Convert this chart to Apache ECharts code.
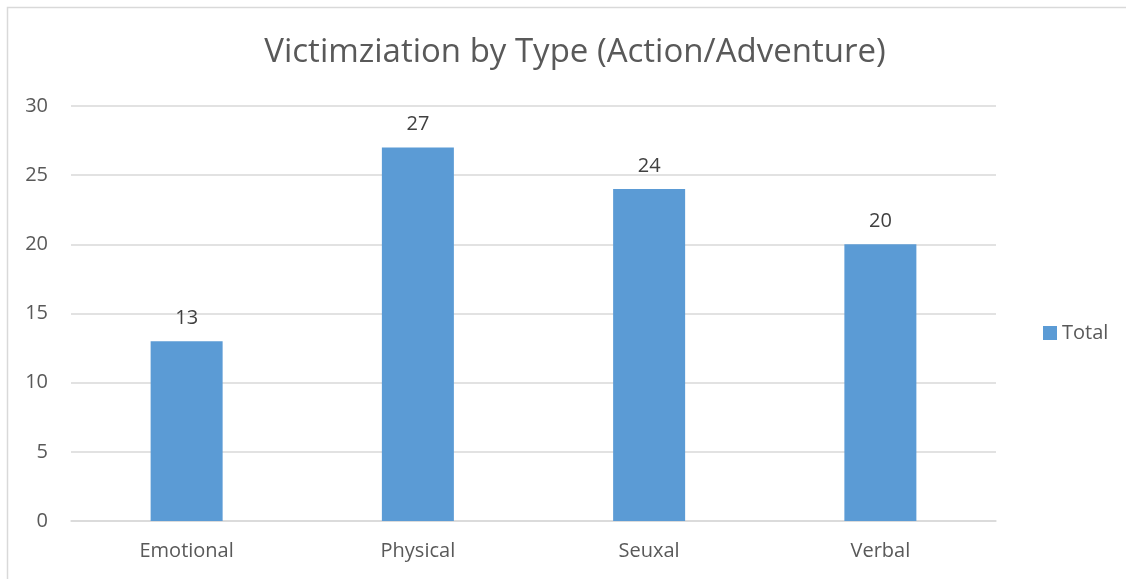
<!DOCTYPE html>
<html><head><meta charset="utf-8">
<script src="https://cdn.jsdelivr.net/npm/echarts@6/dist/echarts.min.js"></script>
<style>html,body{margin:0;padding:0;background:#fff;}#c{width:1126px;height:579px;}</style>
</head><body><div id="c"></div>
<script>
const titleText = "Victimziation by Type (Action/Adventure)";
const categories = ["Emotional", "Physical", "Seuxal", "Verbal"];
const seriesName = "Total";
const values = [13, 27, 24, 20];
const yTicks = { min: 0, max: 30, interval: 5 };

const FONT = "'Open Sans', 'Noto Sans', sans-serif";
const chart = echarts.init(document.getElementById('c'));
chart.setOption({
  backgroundColor: '#fff',
  animation: false,
  graphic: [{ type: 'rect', shape: { x: 7.5, y: 7.5, width: 1130, height: 590 }, style: { fill: 'none', stroke: '#d9d9d9', lineWidth: 1.5 }, silent: true }],
  title: { text: titleText, left: 570, textAlign: 'center', top: 31, textStyle: { fontFamily: FONT, fontSize: 33, fontWeight: 'normal', color: '#595959' } },
  legend: { data: [seriesName], left: 1038, top: 318, orient: 'vertical', itemWidth: 14, itemHeight: 14, itemGap: 5, icon: 'rect', textStyle: { fontFamily: FONT, fontSize: 20, color: '#595959' } },
  grid: { left: 71, right: 130, top: 106, bottom: 58, containLabel: false },
  xAxis: { type: 'category', data: categories, axisLine: { lineStyle: { color: '#d9d9d9', width: 1.5 } }, axisTick: { show: false }, axisLabel: { fontFamily: FONT, fontSize: 20, color: '#595959', margin: 20 } },
  yAxis: { type: 'value', min: yTicks.min, max: yTicks.max, interval: yTicks.interval, axisLine: { show: false }, axisTick: { show: false }, splitLine: { lineStyle: { color: '#d9d9d9', width: 1.5 } }, axisLabel: { fontFamily: FONT, fontSize: 20, color: '#595959', margin: 23 } },
  series: [{ name: seriesName, type: 'bar', data: values, barWidth: 72, itemStyle: { color: '#5b9bd5' }, label: { show: true, position: 'top', distance: 13, fontFamily: FONT, fontSize: 20, color: '#404040' } }]
});
</script></body></html>
